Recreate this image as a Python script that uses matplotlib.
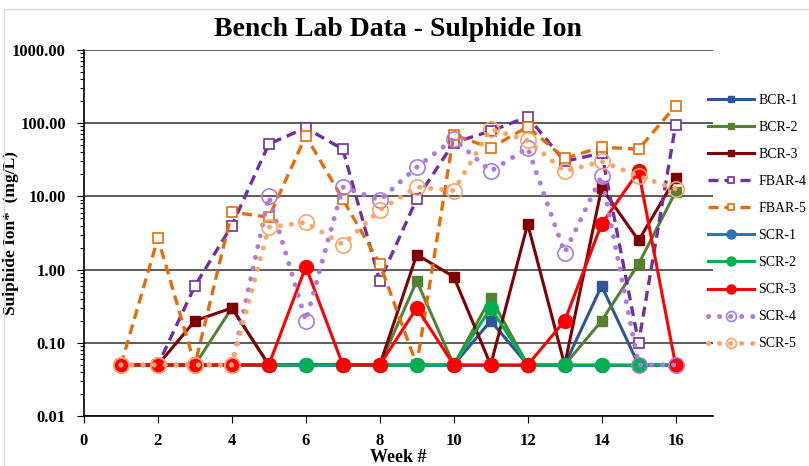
import matplotlib
matplotlib.use("Agg")
import matplotlib.pyplot as plt
from matplotlib.patches import Rectangle
from matplotlib.ticker import FixedLocator, LogLocator, NullFormatter

plt.rcParams["font.family"] = ["Liberation Serif", "DejaVu Serif"]

weeks = list(range(1, 17))

bcr1 = [0.05, 0.05, 0.05, 0.05, 0.05, 0.05, 0.05, 0.05, 0.05, 0.05, 0.2, 0.05, 0.05, 0.6, 0.05, 0.05]
bcr2 = [0.05, 0.05, 0.05, 0.3, 0.05, 0.05, 0.05, 0.05, 0.7, 0.05, 0.41, 0.05, 0.05, 0.2, 1.2, 11.5]
bcr3 = [0.05, 0.05, 0.2, 0.3, 0.05, 0.05, 0.05, 0.05, 1.6, 0.8, 0.05, 4.2, 0.05, 13, 2.5, 17.8]
fbar4 = [0.05, 0.05, 0.6, 4.0, 52, 86, 44, 0.7, 9.2, 54, 78, 122, 30, 39, 0.1, 94]
fbar5 = [0.05, 2.7, 0.05, 6.1, 5.2, 67, 9.2, 1.2, 0.05, 69, 46, 89, 33, 47, 44, 172]
scr1 = [0.05] * 16
scr2 = [0.05, 0.05, 0.05, 0.05, 0.05, 0.05, 0.05, 0.05, 0.05, 0.05, 0.3, 0.05, 0.05, 0.05, 0.05, 0.05]
scr3 = [0.05, 0.05, 0.05, 0.05, 0.05, 1.1, 0.05, 0.05, 0.3, 0.05, 0.05, 0.05, 0.2, 4.2, 22, 0.05]
scr4 = [0.05, 0.05, 0.05, 0.05, 10, 0.2, 13.4, 8.9, 25, 61, 22, 46, 1.7, 19, 0.05, 0.05]
scr5 = [0.05, 0.05, 0.05, 0.05, 3.8, 4.4, 2.2, 6.5, 13.4, 12, 83, 58, 22, 30, 19, 12.6]

fig = plt.figure(figsize=(8.09, 4.66), dpi=100)
# light outer chart border (left and top edges only show)
fig.patches.append(Rectangle((4 / 809, -0.1), 1.2, 0.1 + 457 / 466,
                             transform=fig.transFigure, fill=False,
                             edgecolor="#D9D9D9", lw=1))
ax = fig.add_axes([0.1038, 0.107, 0.777, 0.786])

dot = (0, (0.01, 2.2))
dash = (0, (3, 1.8))

ax.plot(weeks, bcr1, color="#2F5597", lw=2.2, marker="s", ms=6.5, label="BCR-1")
ax.plot(weeks, bcr2, color="#548235", lw=2.2, marker="s", ms=6.5, label="BCR-2")
ax.plot(weeks, bcr3, color="#7F0000", lw=2.2, marker="s", ms=6.5, label="BCR-3")
ax.plot(weeks, fbar4, color="#7030A0", lw=2.4, ls=dash, marker="s", ms=7.5,
        mfc="white", mew=1.2, label="FBAR-4")
ax.plot(weeks, fbar5, color="#E46C0A", lw=2.4, ls=dash, marker="s", ms=7.5,
        mfc="white", mew=1.2, label="FBAR-5")
ax.plot(weeks, scr1, color="#2E75B6", lw=2.2, marker="o", ms=10, label="SCR-1")
ax.plot(weeks, scr2, color="#00B050", lw=2.2, marker="o", ms=10, label="SCR-2")
ax.plot(weeks, scr3, color="#FF0000", lw=2.2, marker="o", ms=10, label="SCR-3")
ax.plot(weeks, scr4, color="#AD7BDB", lw=3.6, ls=dot, dash_capstyle="round",
        marker="o", ms=11, mfc="none", mew=1.2, label="SCR-4")
ax.plot(weeks, scr5, color="#FBA463", lw=3.6, ls=dot, dash_capstyle="round",
        marker="o", ms=11, mfc="none", mew=1.2, label="SCR-5")

ax.set_yscale("log")
ax.set_ylim(0.01, 1000)
ax.set_xlim(0, 17)
ax.xaxis.set_major_locator(FixedLocator(range(0, 17, 2)))
ax.set_xticklabels([str(v) for v in range(0, 17, 2)], fontweight="bold", fontsize=12)
ax.set_yticks([0.01, 0.1, 1, 10, 100, 1000])
ax.set_yticklabels(["0.01", "0.10", "1.00", "10.00", "100.00", "1000.00"],
                   fontweight="bold", fontsize=12)
ax.yaxis.set_minor_locator(LogLocator(base=10, subs=range(2, 10)))
ax.yaxis.set_minor_formatter(NullFormatter())
ax.tick_params(axis="y", which="minor", direction="out", length=3, width=0.8)
ax.tick_params(axis="y", which="major", direction="out", length=5, pad=8)
ax.tick_params(axis="x", direction="out", length=5, pad=7)
ax.grid(axis="y", which="major", color="#404040", lw=1.2)
ax.set_axisbelow(True)
for s in ["top", "right"]:
    ax.spines[s].set_visible(False)
ax.spines["left"].set_linewidth(1.2)
ax.spines["bottom"].set_linewidth(1.2)

ax.set_title("Bench Lab Data - Sulphide Ion", fontsize=20, fontweight="bold", pad=10)
ax.set_xlabel("Week #", fontsize=13, fontweight="bold", va="center")
ax.xaxis.set_label_coords(0.5, -0.112)
ax.set_ylabel("Sulphide Ion*  (mg/L)", fontsize=12.5, fontweight="bold")
ax.yaxis.set_label_coords(-0.1035, 0.5)

ax.legend(loc="upper left", bbox_to_anchor=(0.993, 0.879), frameon=False,
          fontsize=10, handlelength=3.3, handletextpad=0.3,
          labelspacing=1.01, markerscale=0.65, borderpad=0, borderaxespad=0)

fig.savefig("out.png", dpi=100)
